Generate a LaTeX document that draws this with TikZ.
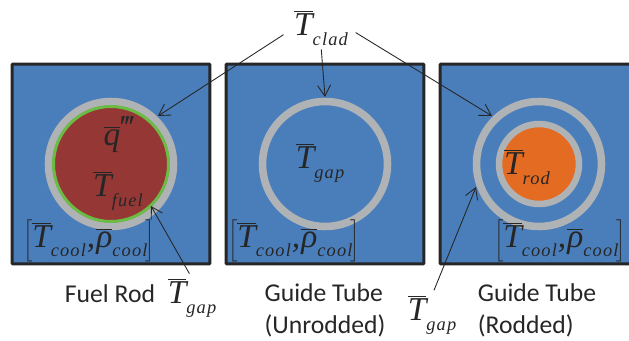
\documentclass[tikz,border=0pt]{standalone}
\usepackage{fontspec}
\setmainfont{Carlito}
\newfontfamily\symfont{Liberation Serif}[Ligatures=TeX]
\usetikzlibrary{arrows.meta}
\definecolor{pcink}{HTML}{262626}
\definecolor{pcblue}{HTML}{4A7EBB}
\definecolor{pcred}{HTML}{953735}
\definecolor{pcgreen}{HTML}{6CBB45}
\definecolor{pcgrey}{HTML}{B0B3B5}
\definecolor{pcorange}{HTML}{E46C22}
\newcommand{\bigsym}{\symfont\itshape\fontsize{19}{19}\selectfont}
\newcommand{\subsym}[1]{\symfont\itshape\fontsize{10.5}{10.5}\selectfont\addfontfeature{LetterSpace=6}#1}
\newcommand{\barsym}[2]{$\overline{\mbox{\bigsym #1}}$\raisebox{-5.5pt}{\subsym{#2}}}
\newcommand{\coolpair}{$\left[\mbox{\barsym{T}{cool}\bigsym\hspace{0.6pt},\hspace{0.6pt}\barsym{\char"03C1}{cool}}\hspace{-1pt}\right]$}
\tikzset{
  pc text/.style={font=\fontsize{14.6}{18.2}\selectfont, text=pcink},
  pc cell/.style={draw=pcink, fill=pcblue, line width=1.7pt, rounded corners=0.6pt,
    minimum width=3.96cm, minimum height=4cm, inner sep=0pt},
  pc ring/.style={circle, draw=pcgrey, line width=4.3pt, minimum size=2.5cm, inner sep=0pt},
  pc fuel/.style={circle, draw=pcgreen, fill=pcred, line width=1.7pt, minimum size=2.3cm, inner sep=0pt},
  pc rod/.style={circle, draw=pcgrey, fill=pcorange, line width=3.7pt, minimum size=1.6cm, inner sep=0pt},
  pc sym/.style={text=pcink, inner sep=0pt},
  pc label/.style={align=left, inner sep=0pt},
  pc arrow/.style={-{Straight Barb[length=2.2mm,width=2.6mm]}, line width=0.5pt, draw=pcink}
}

\begin{document}
\begin{tikzpicture}[pc text, x=0.02cm, y=-0.02cm]
  \useasboundingbox (0,0) rectangle (629,341);
  % cells
  \node[pc cell] (fuelcell) at (111,164) {};
  \node[pc cell] (opencell) at (325,164) {};
  \node[pc cell] (rodcell) at (539,164) {};
  % rings
  \node[pc ring] (fuelclad) at (111,164) {};
  \node[pc fuel] (fuel) at (111,164) {};
  \node[pc ring] (openclad) at (325,164) {};
  \node[pc ring] (rodclad) at (539,164) {};
  \node[pc rod] (rod) at (539,164) {};
  % symbols
  \node[pc sym] (clad) at (321,28) {\barsym{T}{clad}};
  \node[pc sym] (qheat) at (118,136) {\barsym{q}{}\hspace{-1pt}\raisebox{4pt}{\bigsym\char"2034}};
  \node[pc sym] (tfuel) at (118,191) {\barsym{T}{fuel}};
  \node[pc sym] (topen) at (320,163) {\barsym{T}{gap}};
  \node[pc sym] (trod) at (527,167) {\barsym{T}{rod}};
  \node[pc sym] (coolfuel) at (89,241) {\coolpair};
  \node[pc sym] (coolopen) at (294,241) {\coolpair};
  \node[pc sym] (coolrod) at (560,241) {\coolpair};
  \node[pc sym] (gapfuel) at (192,298) {\barsym{T}{gap}};
  \node[pc sym] (gaprod) at (432,315) {\barsym{T}{gap}};
  % labels
  \node[pc label] (lfuel) at (110,294) {Fuel Rod};
  \node[pc label] (lopen) at (325,310) {Guide Tube\\(Unrodded)};
  \node[pc label] (lrod) at (537,310) {Guide Tube\\(Rodded)};
  % arrow ends
  \coordinate (hitfuel) at (158,116);
  \coordinate (hitopen) at (325,97);
  \coordinate (hitrod) at (492,116);
  \coordinate (hitgapfuel) at (151,206);
  \coordinate (hitgaprod) at (476,187);
  \draw[pc arrow, shorten <=7pt] (clad.west) -- (hitfuel);
  \draw[pc arrow, shorten <=2pt] (clad.south) -- (hitopen);
  \draw[pc arrow, shorten <=5pt] (clad.east) -- (hitrod);
  \draw[pc arrow, shorten <=3pt] (gapfuel.north) -- (hitgapfuel);
  \draw[pc arrow, shorten <=3pt] (gaprod.north) -- (hitgaprod);
\end{tikzpicture}
\end{document}
